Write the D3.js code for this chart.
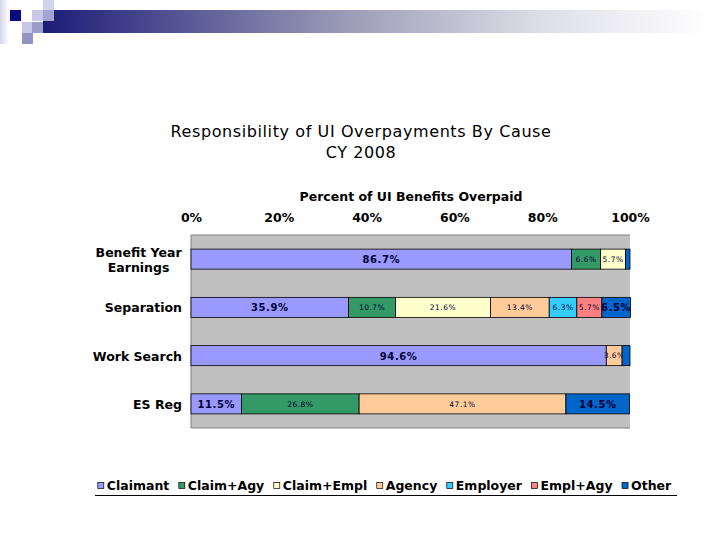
<!DOCTYPE html>
<html>
<head>
<meta charset="utf-8">
<script src="https://cdn.jsdelivr.net/npm/d3@7"></script>
<style>
body { margin: 0; background: #fff; }
text { font-family: "DejaVu Sans", Verdana, sans-serif; }
</style>
</head>
<body>
<div class="container"></div>
<script>
// data
var causes = ['Benefit Year Earnings', 'Separation', 'Work Search', 'ES Reg'];
var series = ['Claimant', 'Claim+Agy', 'Claim+Empl', 'Agency', 'Employer', 'Empl+Agy', 'Other'];
var claimant  = [86.7, 35.9, 94.6, 11.5];
var claimAgy  = [6.6, 10.7, 0, 26.8];
var claimEmpl = [5.7, 21.6, 0, 0];
var agency    = [0, 13.4, 3.6, 47.1];
var employer  = [0, 6.3, 0, 0];
var emplAgy   = [0, 5.7, 0, 0];
var other     = [1.0, 6.5, 1.8, 14.5];
var ticks = [0, 20, 40, 60, 80, 100];

var colors = ['#9999ff', '#339966', '#ffffcc', '#ffcc99', '#33ccff', '#ff8080', '#0066cc'];
var bigLabel = ['Claimant', 'Other'];

const WIDTH = 720;
const HEIGHT = 540;
var LEFT = 191, RIGHT = 630, TOP = 235, BOTTOM = 428;

var svg = d3.select('.container').append('svg')
	.attr('width', WIDTH)
	.attr('height', HEIGHT);

// slide header decoration
var defs = svg.append('defs');
var grad = defs.append('linearGradient').attr('id', 'hdr');
grad.append('stop').attr('offset', '0%').attr('stop-color', '#1c1c78');
grad.append('stop').attr('offset', '45%').attr('stop-color', '#9a9ab6');
grad.append('stop').attr('offset', '75%').attr('stop-color', '#dedee8');
grad.append('stop').attr('offset', '100%').attr('stop-color', '#ffffff');
var side = defs.append('linearGradient').attr('id', 'side');
side.append('stop').attr('offset', '0%').attr('stop-color', '#d4d4ec');
side.append('stop').attr('offset', '100%').attr('stop-color', '#ffffff');

svg.append('rect').attr('x', 0).attr('y', 0).attr('width', 9).attr('height', 44).attr('fill', 'url(#side)');
svg.append('rect').attr('x', 43).attr('y', 10).attr('width', 665).attr('height', 23).attr('fill', 'url(#hdr)');
var squares = [
	[10, 10, '#0a0a80'], [22, 22, '#c8c8e6'], [32, 10, '#c8c8e6'], [43, 0, '#d2d2ea'],
	[43, 10, '#a4a4d2'], [32, 22, '#9c9ccc'], [22, 33, '#9494c4']
];
svg.selectAll('.sq').data(squares).enter().append('rect')
	.attr('x', function(d) { return d[0]; })
	.attr('y', function(d) { return d[1]; })
	.attr('width', 11).attr('height', 11)
	.attr('fill', function(d) { return d[2]; });

// titles
svg.append('text').attr('x', 361).attr('y', 137).attr('text-anchor', 'middle')
	.style('font-size', '16px').style('letter-spacing', '0.6px').text('Responsibility of UI Overpayments By Cause');
svg.append('text').attr('x', 361).attr('y', 158).attr('text-anchor', 'middle')
	.style('font-size', '16px').style('letter-spacing', '0.6px').text('CY 2008');
svg.append('text').attr('x', 411).attr('y', 201).attr('text-anchor', 'middle')
	.style('font-size', '12.5px').style('font-weight', 'bold').text('Percent of UI Benefits Overpaid');

var x = d3.scaleLinear().domain([0, 100]).range([LEFT, RIGHT]);
var y = d3.scaleBand().domain(causes).range([TOP, BOTTOM]).paddingInner(0.585).paddingOuter(0.2925);

// plot area
svg.append('rect').attr('x', LEFT).attr('y', TOP).attr('width', RIGHT - LEFT).attr('height', BOTTOM - TOP)
	.attr('fill', '#c0c0c0');
svg.append('line').attr('x1', LEFT).attr('x2', RIGHT).attr('y1', TOP).attr('y2', TOP).attr('stroke', '#808080');
svg.append('line').attr('x1', LEFT).attr('x2', LEFT).attr('y1', TOP).attr('y2', BOTTOM).attr('stroke', '#808080');
svg.append('line').attr('x1', LEFT).attr('x2', RIGHT).attr('y1', BOTTOM).attr('y2', BOTTOM).attr('stroke', '#808080');

var xAxis = d3.axisTop(x).tickValues(ticks).tickSize(0).tickPadding(0)
	.tickFormat(function(d) { return d + '%'; });
var ax = svg.append('g').attr('transform', 'translate(0,' + 222 + ')').call(xAxis);
ax.select('.domain').remove();
ax.selectAll('text').attr('y', 0).attr('dy', 0)
	.style('font-family', '"DejaVu Sans", Verdana, sans-serif')
	.style('font-size', '12.5px').style('font-weight', 'bold').attr('fill', '#000');

// category labels
causes.forEach(function(c) {
	var words = c === 'Benefit Year Earnings' ? ['Benefit Year', 'Earnings'] : [c];
	var cy = y(c) + y.bandwidth() / 2;
	var t = svg.append('text').style('font-size', '12.5px').style('font-weight', 'bold');
	if (words.length === 1) {
		t.attr('x', 182).attr('y', cy + 5).attr('text-anchor', 'end').text(c);
	} else {
		t.attr('text-anchor', 'middle');
		t.append('tspan').attr('x', 0).attr('y', cy - 2).text(words[0]);
		t.append('tspan').attr('x', 0).attr('y', cy + 13).text(words[1]);
		var w = t.node().getBBox().width;
		t.selectAll('tspan').attr('x', 182 - w / 2);
	}
});

// stack
var rows = causes.map(function(c, i) {
	return { cause: c, 'Claimant': claimant[i], 'Claim+Agy': claimAgy[i], 'Claim+Empl': claimEmpl[i],
		'Agency': agency[i], 'Employer': employer[i], 'Empl+Agy': emplAgy[i], 'Other': other[i] };
});
var stacked = d3.stack().keys(series)(rows);

var groups = svg.selectAll('.layer').data(stacked).enter().append('g')
	.attr('class', 'layer')
	.attr('fill', function(d, i) { return colors[i]; });

groups.selectAll('rect').data(function(d) { return d; }).enter().append('rect')
	.filter(function(d) { return d[1] - d[0] > 0; })
	.attr('x', function(d) { return x(d[0]); })
	.attr('y', function(d) { return y(d.data.cause); })
	.attr('width', function(d) { return x(d[1]) - x(d[0]); })
	.attr('height', y.bandwidth())
	.attr('stroke', '#000').attr('stroke-width', 0.8);

groups.each(function(layer) {
	var big = bigLabel.indexOf(layer.key) >= 0;
	d3.select(this).selectAll('.lbl').data(layer.filter(function(d) { return d[1] - d[0] >= 3; }))
		.enter().append('text')
		.attr('x', function(d) { return x((d[0] + d[1]) / 2); })
		.attr('y', function(d) { return y(d.data.cause) + y.bandwidth() / 2 + (big ? 4 : 2.7); })
		.attr('text-anchor', 'middle')
		.attr('fill', '#000033')
		.style('font-size', big ? '10px' : '7.5px')
		.style('font-weight', big ? 'bold' : 'normal')
		.style('letter-spacing', big ? '0.6px' : '0.5px')
		.text(function(d) { return (d[1] - d[0]).toFixed(1) + '%'; });
});

// legend
var legend = svg.append('g').attr('class', 'legend');
var lx = 0;
series.forEach(function(s, i) {
	var g = legend.append('g').attr('transform', 'translate(' + lx + ',0)');
	g.append('rect').attr('x', 0).attr('y', -7.5).attr('width', 6).attr('height', 6)
		.attr('fill', colors[i]).attr('stroke', '#000').attr('stroke-width', 0.7);
	var t = g.append('text').attr('x', 9).attr('y', 0)
		.style('font-size', '12.5px').style('font-weight', 'bold').text(s);
	lx += 9 + t.node().getComputedTextLength() + 9.5;
});
lx -= 9.5;
legend.attr('transform', 'translate(' + (384.5 - lx / 2) + ',490)');
svg.append('line').attr('x1', 95).attr('x2', 677).attr('y1', 495.5).attr('y2', 495.5)
	.attr('stroke', '#000').attr('stroke-width', 1);
</script>
</body>
</html>
